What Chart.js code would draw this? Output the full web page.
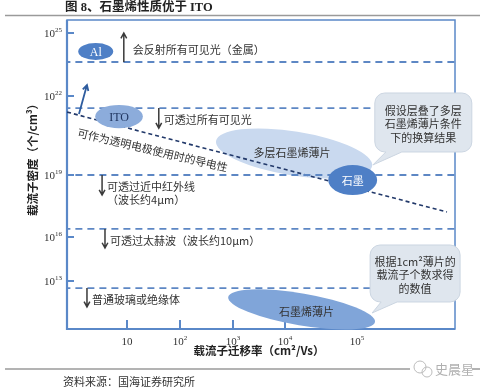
<!DOCTYPE html>
<html lang="zh">
<head>
<meta charset="UTF-8">
<title>图 8、石墨烯性质优于 ITO</title>
<style>
  html, body { margin: 0; padding: 0; background: #fff; }
  #wrap { width: 480px; height: 391px; }
</style>
</head>
<body>
<div id="wrap"><canvas id="chart" width="480" height="391"></canvas></div>
<script src="https://cdn.jsdelivr.net/npm/chart.js"></script>
<script>
// all values are log10: mobility (cm²/Vs) on x, carrier density (个/cm³) on y
const xTickLog = [1, 2, 3, 4, 5];
const yTickLog = [13, 16, 19, 22, 25];

const thresholdLog = [23.62, 21.54, 19, 16.39, 12.52];

const arrowMobility = [0.94, 1.60, 0.53, 0.585, 0.245];
const arrowFrom = [23.62, 21.54, 19, 16.39, 12.52];
const arrowTo = [25, 20.78, 18.03, 15.25, 11.23];
const arrowText = [
    ['会反射所有可见光（金属）'],
    ['可透过所有可见光'],
    ['可透过近中红外线', '（波长约4μm）'],
    ['可透过太赫波（波长约10μm）'],
    ['普通玻璃或绝缘体']
];

const conductMobility = [-0.13, 6.25];
const conductDensity = [21.39, 17.21];
const conductLabel = '可作为透明电极使用时的导电性';

const itoUpMobility = [0.094, 0.245];
const itoUpDensity = [21.32, 22.52];

const blobNames = ['Al', 'ITO', '石墨'];
const blobMobility = [[0.08, 0.74], [0.40, 1.30], [4.60, 5.28]];
const blobDensity = [[23.71, 24.52], [20.78, 21.66], [18.03, 19.38]];

const flakeNames = ['多层石墨烯薄片', '石墨烯薄片'];
const flakeMobility = [[2.68, 5.21], [2.91, 5.25]];
const flakeDensity = [[20.29, 19.34], [11.91, 10.21]];

const noteText = [
    ['假设层叠了多层', '石墨烯薄片条件', '下的换算结果'],
    ['根据1cm²薄片的', '载流子个数求得', '的数值']
];
const noteMobility = [5.22, 5.21];
const noteDensity = [19.38, 10.82];

// where each decade sits along the drawn axes (the original axes are hand spaced)
const bentStops = {
    x: [[1, 0.1546], [2, 0.2912], [3, 0.4278], [4, 0.5619], [5, 0.7474]],
    y: [[13, 0.1553], [16, 0.2977], [19, 0.4984], [22, 0.7540], [25, 0.9579]]
};

class BentScale extends Chart.LinearScale {
    static id = 'bent';
    static defaults = {};
    getPixelForValue(v) {
        if (v === null || v === undefined) return NaN;
        const s = bentStops[this.id];
        let i = 0;
        while (i < s.length - 2 && v > s[i + 1][0]) i++;
        const a = s[i], b = s[i + 1];
        return this.getPixelForDecimal(a[1] + (v - a[0]) * (b[1] - a[1]) / (b[0] - a[0]));
    }
    getValueForPixel(p) {
        const d = this.getDecimalForPixel(p);
        const s = bentStops[this.id];
        let i = 0;
        while (i < s.length - 2 && d > s[i + 1][1]) i++;
        const a = s[i], b = s[i + 1];
        return a[0] + (d - a[1]) * (b[0] - a[0]) / (b[1] - a[1]);
    }
}
Chart.register(BentScale);

const CJK = '"Noto Sans CJK SC", sans-serif';
const SERIF = '"Liberation Serif", "Noto Sans CJK SC", serif';
const AXIS_BLUE = '#5a88c8';
const xMin = -0.2, xMax = 6.6;

const datasets = thresholdLog.map(v => ({
    data: [{ x: xMin, y: v }, { x: xMax, y: v }],
    borderColor: '#5d87c4',
    borderWidth: 1.8,
    borderDash: [7, 5],
    pointRadius: 0
}));
datasets.push({
    data: conductMobility.map((x, i) => ({ x, y: conductDensity[i] })),
    borderColor: '#22396a',
    borderWidth: 1.6,
    borderDash: [4, 3],
    pointRadius: 0
});

function pt(chart, lx, ly) {
    return [chart.scales.x.getPixelForValue(lx), chart.scales.y.getPixelForValue(ly)];
}

function arrow(ctx, x0, y0, x1, y1, color, w) {
    const a = Math.atan2(y1 - y0, x1 - x0), h = 6;
    ctx.save();
    ctx.strokeStyle = color;
    ctx.lineWidth = w;
    ctx.beginPath();
    ctx.moveTo(x0, y0);
    ctx.lineTo(x1, y1);
    ctx.moveTo(x1 - h * Math.cos(a - 0.5), y1 - h * Math.sin(a - 0.5));
    ctx.lineTo(x1, y1);
    ctx.lineTo(x1 - h * Math.cos(a + 0.5), y1 - h * Math.sin(a + 0.5));
    ctx.stroke();
    ctx.restore();
}

function power(ctx, exp, x, y, align) {
    const sup = exp === 1 ? '' : String(exp);
    ctx.font = '11px ' + SERIF;
    const wb = ctx.measureText('10').width;
    ctx.font = '7px ' + SERIF;
    const ws = ctx.measureText(sup).width;
    const left = align === 'right' ? x - wb - ws : x - (wb + ws) / 2;
    ctx.fillStyle = '#333';
    ctx.textAlign = 'left';
    ctx.textBaseline = 'middle';
    ctx.font = '11px ' + SERIF;
    ctx.fillText('10', left, y + 1);
    ctx.font = '7px ' + SERIF;
    ctx.fillText(sup, left + wb, y - 3);
}

function flake(ctx, chart, i, fill) {
    const [x0, y0] = pt(chart, flakeMobility[i][0], flakeDensity[i][0]);
    const [x1, y1] = pt(chart, flakeMobility[i][1], flakeDensity[i][1]);
    const thick = i === 0 ? 22 : 16;
    ctx.fillStyle = fill;
    ctx.beginPath();
    ctx.ellipse((x0 + x1) / 2, (y0 + y1) / 2, Math.hypot(x1 - x0, y1 - y0) / 2, thick,
        Math.atan2(y1 - y0, x1 - x0), 0, Math.PI * 2);
    ctx.fill();
    ctx.fillStyle = '#333';
    ctx.font = '11px ' + CJK;
    ctx.textAlign = 'center';
    ctx.textBaseline = 'middle';
    ctx.fillText(flakeNames[i], (x0 + x1) / 2 + (i === 0 ? -2 : 5), (y0 + y1) / 2 + (i === 0 ? -1 : 2));
}

const noteBox = [[2, -72, 97, 59], [-2, -68, 90, 57]];

const sketch = {
    id: 'sketch',
    beforeDatasetsDraw(chart) {
        const ctx = chart.ctx, a = chart.chartArea;
        ctx.save();
        // frame
        ctx.strokeStyle = AXIS_BLUE;
        ctx.lineWidth = 1.5;
        ctx.strokeRect(a.left, a.top, a.right - a.left, a.bottom - a.top);
        ctx.lineWidth = 2.2;
        ctx.beginPath();
        ctx.moveTo(a.left, a.top);
        ctx.lineTo(a.left, a.bottom);
        ctx.lineTo(a.right, a.bottom);
        ctx.stroke();
        // ticks point inward
        ctx.lineWidth = 2;
        xTickLog.forEach(v => {
            const x = chart.scales.x.getPixelForValue(v);
            ctx.beginPath();
            ctx.moveTo(x, a.bottom);
            ctx.lineTo(x, a.bottom - 9);
            ctx.stroke();
        });
        yTickLog.forEach(v => {
            const y = chart.scales.y.getPixelForValue(v);
            ctx.beginPath();
            ctx.moveTo(a.left, y);
            ctx.lineTo(a.left + 7, y);
            ctx.stroke();
        });
        xTickLog.forEach(v => power(ctx, v, chart.scales.x.getPixelForValue(v), a.bottom + 12, 'center'));
        yTickLog.forEach(v => power(ctx, v, a.left - 5, chart.scales.y.getPixelForValue(v), 'right'));
        flake(ctx, chart, 0, '#c9d9ef');
        ctx.restore();
    },
    afterDatasetsDraw(chart) {
        const ctx = chart.ctx, a = chart.chartArea;
        ctx.save();

        // arrows with their notes
        arrowMobility.forEach((m, i) => {
            const [x, y0] = pt(chart, m, arrowFrom[i]);
            const y1 = chart.scales.y.getPixelForValue(arrowTo[i]);
            arrow(ctx, x, y0, x, y1, '#3a3a3a', 1.5);
            const dir = y1 > y0 ? 1 : -1;
            ctx.fillStyle = '#333';
            ctx.font = '11px ' + CJK;
            ctx.textAlign = 'left';
            ctx.textBaseline = 'middle';
            arrowText[i].forEach((t, k) => ctx.fillText(t, x + (i === 0 ? 9 : 5), y0 + dir * 12 + k * 13));
        });

        // ITO can be pushed upward
        const [bx0, by0] = pt(chart, itoUpMobility[0], itoUpDensity[0]);
        const [bx1, by1] = pt(chart, itoUpMobility[1], itoUpDensity[1]);
        arrow(ctx, bx0, by0, bx1, by1, '#2e5c9e', 1.8);

        // conductivity label along the dashed line
        const [cx0, cy0] = pt(chart, conductMobility[0], conductDensity[0]);
        const [cx1, cy1] = pt(chart, conductMobility[1], conductDensity[1]);
        const ang = Math.atan2(cy1 - cy0, cx1 - cx0);
        const t = 0.235;
        ctx.save();
        ctx.translate(cx0 + (cx1 - cx0) * t - Math.sin(ang) * 15, cy0 + (cy1 - cy0) * t + Math.cos(ang) * 15);
        ctx.rotate(ang * 0.9);
        ctx.fillStyle = '#333';
        ctx.font = '11px ' + CJK;
        ctx.textAlign = 'center';
        ctx.textBaseline = 'middle';
        ctx.fillText(conductLabel, 0, 0);
        ctx.restore();

        // material blobs
        const blobFill = ['#4e7fc6', '#8cacdb', '#4e7fc6'];
        const blobInk = ['#fff', '#1f3560', '#fff'];
        blobNames.forEach((n, i) => {
            const [x0, y0] = pt(chart, blobMobility[i][0], blobDensity[i][1]);
            const [x1, y1] = pt(chart, blobMobility[i][1], blobDensity[i][0]);
            ctx.fillStyle = blobFill[i];
            ctx.beginPath();
            ctx.ellipse((x0 + x1) / 2, (y0 + y1) / 2, (x1 - x0) / 2, (y1 - y0) / 2, 0, 0, Math.PI * 2);
            ctx.fill();
            ctx.fillStyle = blobInk[i];
            ctx.font = (i === 2 ? '11px ' + CJK : '12px ' + SERIF);
            ctx.textAlign = 'center';
            ctx.textBaseline = 'middle';
            ctx.fillText(n, (x0 + x1) / 2, (y0 + y1) / 2 + 1);
        });
        flake(ctx, chart, 1, '#80a5d9');

        // callouts
        noteText.forEach((lines, i) => {
            const [tx, ty] = pt(chart, noteMobility[i], noteDensity[i]);
            const [dx, dy, w, h] = noteBox[i];
            const L = tx + dx, T = ty + dy, R = L + w, B = T + h, r = 10;
            ctx.fillStyle = '#dfe6ee';
            ctx.strokeStyle = '#cbd5e1';
            ctx.lineWidth = 1;
            ctx.beginPath();
            ctx.moveTo(L + r, T);
            ctx.lineTo(R - r, T);
            ctx.arcTo(R, T, R, T + r, r);
            ctx.lineTo(R, B - r);
            ctx.arcTo(R, B, R - r, B, r);
            ctx.lineTo(L + 27, B);
            ctx.lineTo(tx, ty);
            ctx.lineTo(L + 11, B);
            ctx.lineTo(L + r, B);
            ctx.arcTo(L, B, L, B - r, r);
            ctx.lineTo(L, T + r);
            ctx.arcTo(L, T, L + r, T, r);
            ctx.closePath();
            ctx.fill();
            ctx.stroke();
            ctx.fillStyle = '#333';
            ctx.font = '11px ' + CJK;
            ctx.textAlign = 'center';
            ctx.textBaseline = 'middle';
            lines.forEach((s, k) => ctx.fillText(s, (L + R) / 2, (T + B) / 2 + 1.5 + (k - 1) * 13.5));
        });

        // page furniture: title, axis titles, source
        ctx.fillStyle = '#222';
        ctx.textBaseline = 'middle';
        ctx.textAlign = 'left';
        ctx.font = 'bold 12.5px ' + SERIF;
        ctx.fillText('图 8、石墨烯性质优于 ITO', 65, 8);
        ctx.strokeStyle = '#9a9a9a';
        ctx.lineWidth = 1.6;
        ctx.beginPath();
        ctx.moveTo(5, 15.5);
        ctx.lineTo(480, 15.5);
        ctx.moveTo(5, 369);
        ctx.lineTo(480, 369);
        ctx.stroke();

        ctx.textAlign = 'center';
        ctx.font = 'bold 11.5px ' + CJK;
        ctx.fillText('载流子迁移率（cm²/Vs）', 259, 351);
        ctx.save();
        ctx.translate(33, 157);
        ctx.rotate(-Math.PI / 2);
        ctx.fillText('载流子密度（个/cm³）', 0, 0);
        ctx.restore();

        ctx.textAlign = 'left';
        ctx.font = '11px ' + CJK;
        ctx.fillStyle = '#333';
        ctx.fillText('资料来源：国海证券研究所', 63, 382);

        // watermark
        ctx.fillStyle = '#fff';
        ctx.fillRect(410, 360, 62, 18);
        ctx.strokeStyle = '#bdbdbd';
        ctx.lineWidth = 1;
        ctx.beginPath();
        ctx.arc(420, 367, 6, 0, Math.PI * 2);
        ctx.stroke();
        ctx.beginPath();
        ctx.arc(427, 372, 5, 0, Math.PI * 2);
        ctx.stroke();
        ctx.fillStyle = '#b0b0b0';
        ctx.font = '13px ' + CJK;
        ctx.fillText('史晨星', 435, 369);
        ctx.restore();
    }
};

const chart = new Chart(document.getElementById('chart'), {
    type: 'line',
    data: { datasets },
    options: {
        responsive: false,
        animation: false,
        events: [],
        layout: { padding: { left: 67, top: 20, right: 25, bottom: 62 } },
        plugins: { legend: { display: false }, tooltip: { enabled: false } },
        scales: {
            x: { type: 'bent', axis: 'x', position: 'bottom', display: false, min: xMin, max: xMax },
            y: { type: 'bent', axis: 'y', position: 'left', display: false, min: 9.7, max: 25.6 }
        }
    },
    plugins: [sketch]
});
</script>
</body>
</html>
